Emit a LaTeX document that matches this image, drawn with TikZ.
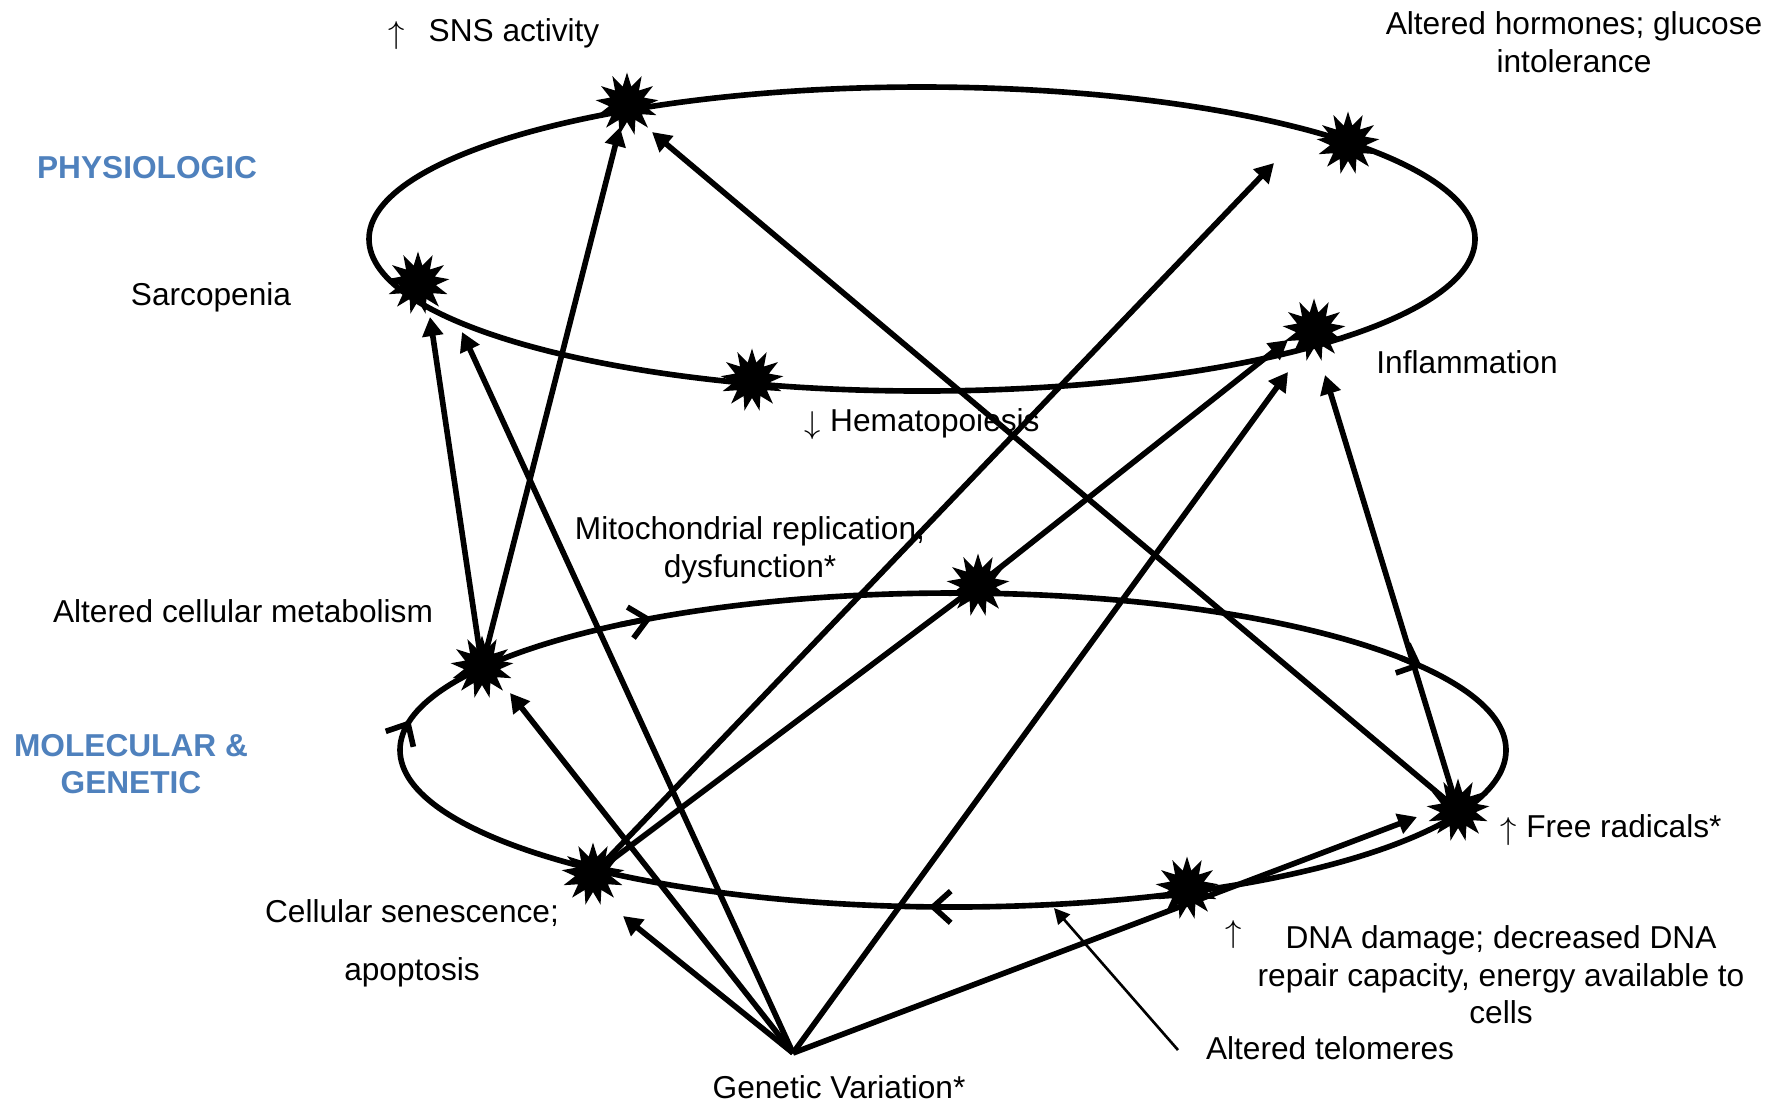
\documentclass[tikz,border=0pt]{standalone}
\usepackage{fontspec}
\setmainfont{Liberation Sans}
\usetikzlibrary{shapes.geometric,arrows.meta}
\definecolor{hdrblue}{RGB}{79,129,189}
\newcommand\ellmark[5]{\draw[ellarr] ({#1+#3*cos(#5-4)},{#2+#4*sin(#5-4)}) -- ({#1+#3*cos(#5)},{#2+#4*sin(#5)});}
\newcommand\uparr{\raisebox{-0.1ex}{$\uparrow$}}
\newcommand\downarr{\raisebox{-0.1ex}{$\downarrow$}}
\begin{document}
\begin{tikzpicture}[x=0.01cm,y=-0.01cm,
  burst/.style={star,star points=13,star point ratio=1.75,fill=black,draw=none,minimum size=0.63cm,inner sep=0pt},
  lbl/.style={font=\fontsize{9}{10.7}\selectfont,align=center,inner sep=0pt},
  hdr/.style={font=\fontsize{9}{10.7}\selectfont\bfseries,text=hdrblue,align=center,inner sep=0pt},
  ring/.style={line width=1.6pt},
  conn/.style={line width=1.6pt,-{Triangle[length=5.4pt,width=5.8pt]}},
  plain/.style={line width=1.6pt},
  thinarr/.style={line width=0.75pt,-{Triangle[length=4.4pt,width=4.4pt]}},
  ellarr/.style={line width=1.6pt,-{Straight Barb[length=5pt,width=9pt]}}]
\fill[white] (0,0) rectangle (1783,1102);
\path[use as bounding box] (0,0) rectangle (1783,1102);

% rings
\draw[ring] (922,239) ellipse [x radius=553, y radius=152];
\draw[ring] (953,750) ellipse [x radius=553, y radius=157];
\ellmark{953}{750}{553}{157}{237}
\ellmark{953}{750}{553}{157}{191}
\ellmark{953}{750}{553}{157}{328}
\ellmark{953}{750}{553}{157}{92.5}

% star positions
\coordinate (p-sns) at (627,104);
\coordinate (p-horm) at (1348,143);
\coordinate (p-sarc) at (418,283);
\coordinate (p-hem) at (752,380);
\coordinate (p-infl) at (1314,330);
\coordinate (p-mito) at (978,585);
\coordinate (p-acm) at (482,667);
\coordinate (p-sen) at (593,874);
\coordinate (p-dna) at (1187,888);
\coordinate (p-fr) at (1458,810);
\coordinate (gv) at (793,1053);

% arrow tips
\coordinate (tip-sns1) at (620,127);
\coordinate (tip-sns2) at (652,132);
\coordinate (tip-sarc1) at (430,317);
\coordinate (tip-sarc2) at (462,332);
\coordinate (tip-horm) at (1274,163);
\coordinate (tip-infl1) at (1288,340);
\coordinate (tip-infl2) at (1288,372);
\coordinate (tip-infl3) at (1325,375);
\coordinate (tip-fr) at (1417,817);
\coordinate (tip-acm) at (510,693);
\coordinate (tip-sen) at (623,916);
\coordinate (tip-tel) at (1054,908);
\coordinate (tel-start) at (1178,1050);

% connectors
\draw[conn] (p-acm) -- (tip-sns1);
\draw[conn] (p-acm) -- (tip-sarc1);
\draw[conn] (gv) -- (tip-sarc2);
\draw[conn] (p-fr) -- (tip-sns2);
\draw[conn] (p-sen) -- (tip-horm);
\draw[plain] (p-sen) -- (p-mito);
\draw[conn] (p-mito) -- (tip-infl1);
\draw[conn] (gv) -- (tip-infl2);
\draw[conn] (p-fr) -- (tip-infl3);
\draw[conn] (gv) -- (tip-fr);
\draw[conn] (gv) -- (tip-acm);
\draw[conn] (gv) -- (tip-sen);
\draw[thinarr] (tel-start) -- (tip-tel);

% stars
\node[burst] (sns) at (p-sns) {};
\node[burst] (horm) at (p-horm) {};
\node[burst] (sarc) at (p-sarc) {};
\node[burst] (hem) at (p-hem) {};
\node[burst] (infl) at (p-infl) {};
\node[burst] (mito) at (p-mito) {};
\node[burst] (acm) at (p-acm) {};
\node[burst] (sen) at (p-sen) {};
\node[burst] (dna) at (p-dna) {};
\node[burst] (fr) at (p-fr) {};

% labels
\node[lbl] (t-sns) at (494,34) {\uparr\hspace{0.75em}SNS activity};
\node[lbl] (t-horm) at (1574,42) {Altered hormones; glucose\\intolerance};
\node[hdr] (t-phys) at (147,168) {PHYSIOLOGIC};
\node[lbl] (t-sarc) at (211,297) {Sarcopenia};
\node[lbl] (t-infl) at (1467,362) {Inflammation};
\node[lbl] (t-hem) at (922,424) {\downarr\hspace{0.3em}Hematopoiesis};
\node[lbl] (t-mito) at (750,550) {Mitochondrial replication,\\dysfunction*};
\node[lbl] (t-acm) at (243,611) {Altered cellular metabolism};
\node[hdr] (t-mol) at (131,764) {MOLECULAR \&\\GENETIC};
\node[lbl] (t-sen) at (412,943) {Cellular senescence;\\[0.2cm]apoptosis};
\node[lbl] (t-fr) at (1611,830) {\uparr\hspace{0.3em}Free radicals*};
\node[lbl] (t-dnaup) at (1234,935) {\uparr};
\node[lbl] (t-dna) at (1501,975) {DNA damage; decreased DNA\\repair capacity, energy available to\\cells};
\node[lbl] (t-tel) at (1330,1048) {Altered telomeres};
\node[lbl] (t-gv) at (839,1087) {Genetic Variation*};
\end{tikzpicture}
\end{document}
